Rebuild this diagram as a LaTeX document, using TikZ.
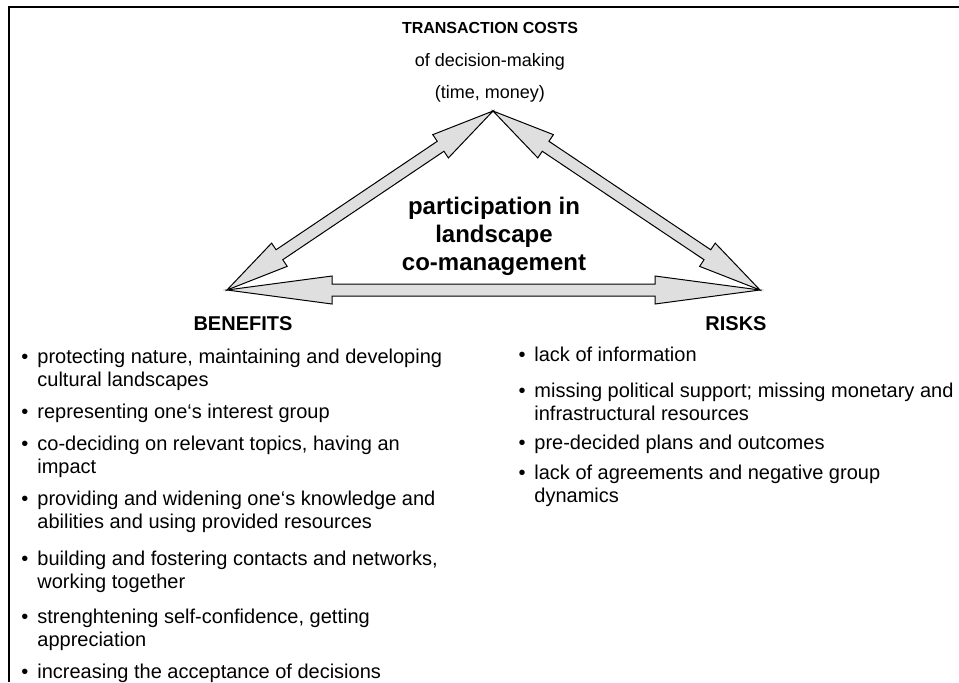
\documentclass[tikz,border=0pt]{standalone}
\usepackage{fontspec}
\setmainfont{Liberation Sans}
\usetikzlibrary{calc}
\newcommand{\listfont}{\fontsize{10}{11.5}\selectfont}
\newcommand{\headfont}{\fontsize{10}{12}\selectfont\bfseries}
\newcommand{\topfont}{\fontsize{8}{10}\selectfont\bfseries}
\newcommand{\subfont}{\fontsize{9}{11}\selectfont}
\newcommand{\midfont}{\fontsize{12}{14}\selectfont\bfseries}
% item text, aligned on its first line
\newcommand{\itm}[1]{\begin{tabular}[t]{@{}l@{}}#1\end{tabular}}
% double block arrow between two named coordinates
\newcommand{\blockarrow}[2]{%
  \coordinate (ha) at ($(#1)!0.197!(#2)$);
  \coordinate (hb) at ($(#2)!0.197!(#1)$);
  \draw[arrowbody] (#1) -- ($(ha)!7pt!90:(#2)$) -- ($(ha)!3pt!90:(#2)$)
    -- ($(hb)!3pt!-90:(#1)$) -- ($(hb)!7pt!-90:(#1)$) -- (#2)
    -- ($(hb)!7pt!90:(#1)$) -- ($(hb)!3pt!90:(#1)$)
    -- ($(ha)!3pt!-90:(#2)$) -- ($(ha)!7pt!-90:(#2)$) -- cycle;}
\begin{document}
\begin{tikzpicture}[x=0.5pt,y=-0.5pt,
  arrowbody/.style={draw=black,fill=gray!25,line width=0.5pt,line join=miter},
  head/.style={font=\headfont,anchor=base,inner sep=0pt},
  sub/.style={font=\subfont,anchor=base,inner sep=0pt},
  bul/.style={font=\listfont,anchor=base,inner sep=0pt},
  item/.style={font=\listfont,anchor=base west,inner sep=0pt},
  frame/.style={line width=1pt}]
  \useasboundingbox (0,0) rectangle (959,682);
  % open frame
  \draw[frame] (959,7) -- (9,7) -- (9,682);
  % top heading
  \node[head,font=\topfont] (tc) at (490,33) {TRANSACTION COSTS};
  \node[sub] (dm) at (490,66) {of decision-making};
  \node[sub] (tm) at (490,98) {(time, money)};
  % corners of the triangle
  \coordinate (costs) at (493,111);
  \coordinate (ben) at (227,290);
  \coordinate (risk) at (760,290);
  \blockarrow{ben}{costs}
  \blockarrow{costs}{risk}
  \blockarrow{ben}{risk}
  \node[font=\midfont,align=center,anchor=base,inner sep=0pt] (part) at (494,270)
    {participation in\\landscape\\co-management};
  \node[head] (bh) at (243,330) {BENEFITS};
  \node[head] (rh) at (736,330) {RISKS};
  % benefits
  \foreach \y/\t [count=\i] in {363/{protecting nature, maintaining and developing\\cultural landscapes},
      418/{representing one‘s interest group},
      450/{co-deciding on relevant topics, having an\\impact},
      505/{providing and widening one‘s knowledge and\\abilities and using provided resources},
      565/{building and fostering contacts and networks,\\working together},
      623/{strenghtening self-confidence, getting\\appreciation},
      678/{increasing the acceptance of decisions}}{
    \node[bul] (bb\i) at (25,\y) {\textbullet};
    \node[item] (bt\i) at (37,\y) {\itm{\t}};
  }
  % risks
  \foreach \y/\t [count=\i] in {361/{lack of information},
      397/{missing political support; missing monetary and\\infrastructural resources},
      449/{pre-decided plans and outcomes},
      479/{lack of agreements and negative group\\dynamics}}{
    \node[bul] (rb\i) at (522,\y) {\textbullet};
    \node[item] (rt\i) at (534,\y) {\itm{\t}};
  }
\end{tikzpicture}
\end{document}
